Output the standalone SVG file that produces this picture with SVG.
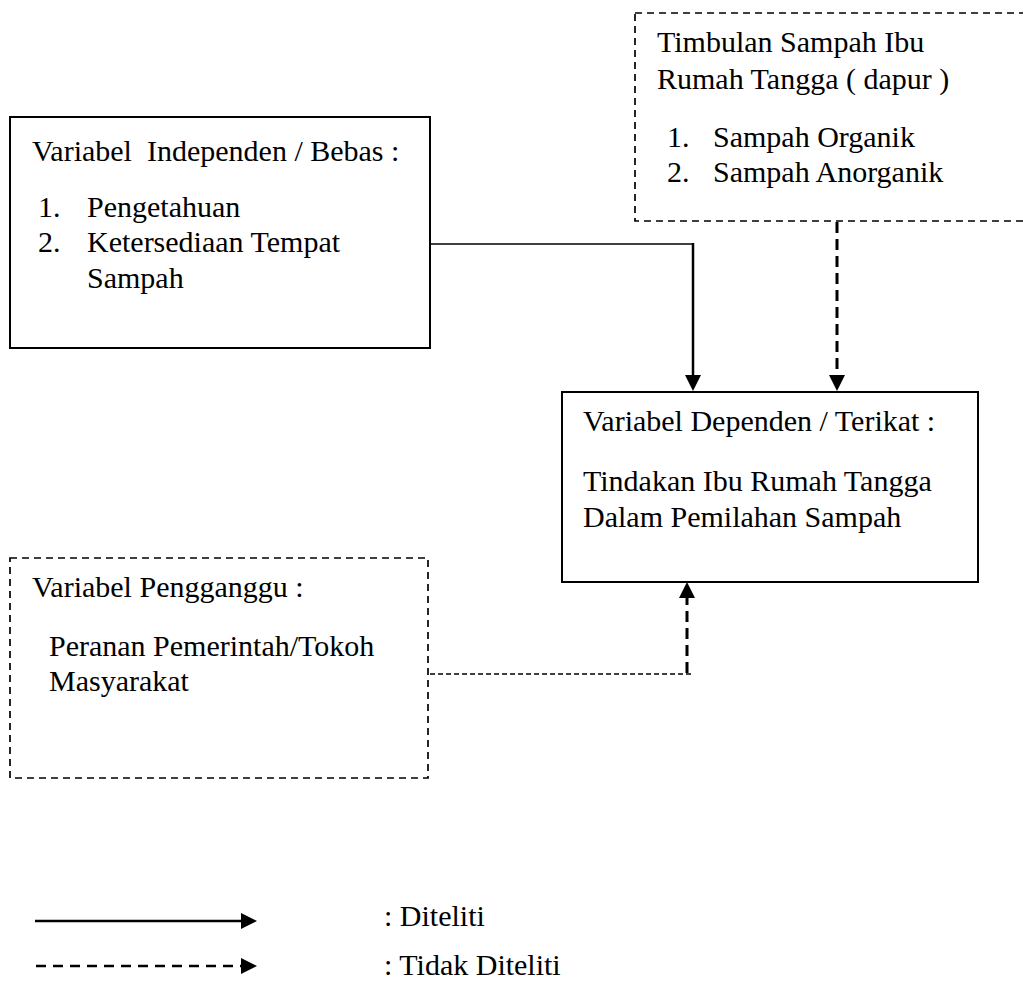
<svg xmlns="http://www.w3.org/2000/svg" width="1023" height="1001" viewBox="0 0 1023 1001">
<style>
.box{fill:none;stroke:#000;stroke-width:2}
.dbox{fill:none;stroke:#000;stroke-width:1.7;stroke-dasharray:7 5}
.solid{fill:none;stroke:#000;stroke-width:2.5}
.thin{fill:none;stroke:#000;stroke-width:1.5}
.dash{fill:none;stroke:#000;stroke-width:3;stroke-dasharray:11 6}
.dot{fill:none;stroke:#000;stroke-width:1.5;stroke-dasharray:5 3}
</style>
<defs>
<marker id="ah" markerUnits="userSpaceOnUse" markerWidth="18" markerHeight="18" refX="0" refY="8" orient="auto" overflow="visible">
<path d="M0,0 L16,8 L0,16 Z" fill="#000"/>
</marker>
</defs>
<rect width="1023" height="1001" fill="#fff"/>

<g id="node-independen" font-family="Liberation Serif, serif" font-size="30" fill="#000">
<rect class="box" x="10" y="117" width="420" height="231"/>
<text x="32" y="161" xml:space="preserve">Variabel  Independen / Bebas :</text>
<text x="38" y="217">1.</text><text x="87" y="217">Pengetahuan</text>
<text x="38" y="252">2.</text><text x="87" y="252">Ketersediaan Tempat</text>
<text x="87" y="288">Sampah</text>
</g>

<g id="node-timbulan" font-family="Liberation Serif, serif" font-size="30" fill="#000">
<rect class="dbox" x="635" y="13" width="420" height="208"/>
<text x="657" y="52">Timbulan Sampah Ibu</text>
<text x="657" y="89">Rumah Tangga ( dapur )</text>
<text x="667" y="147">1.</text><text x="713" y="147">Sampah Organik</text>
<text x="667" y="182">2.</text><text x="713" y="182">Sampah Anorganik</text>
</g>

<g id="node-dependen" font-family="Liberation Serif, serif" font-size="30" fill="#000">
<rect class="box" x="562" y="392" width="416" height="190"/>
<text x="583" y="431">Variabel Dependen / Terikat :</text>
<text x="583" y="491">Tindakan Ibu Rumah Tangga</text>
<text x="583" y="527">Dalam Pemilahan Sampah</text>
</g>

<g id="node-pengganggu" font-family="Liberation Serif, serif" font-size="30" fill="#000">
<rect class="dbox" x="10" y="558" width="418" height="220"/>
<text x="32" y="597">Variabel Pengganggu :</text>
<text x="49" y="656">Peranan Pemerintah/Tokoh</text>
<text x="49" y="691">Masyarakat</text>
</g>

<g id="connectors">
<path class="thin" d="M430,244 H693"/>
<path class="solid" d="M693,243 V375" marker-end="url(#ah)"/>
<path class="dash" d="M837,222 V375" marker-end="url(#ah)"/>
<path class="dot" d="M430,674 H693"/>
<path class="dash" d="M687,673 V598" marker-end="url(#ah)"/>
</g>

<g id="legend" font-family="Liberation Serif, serif" font-size="30" fill="#000">
<path class="solid" d="M35,921 H241" marker-end="url(#ah)"/>
<path class="solid" style="stroke-dasharray:10 7" d="M36,966 H241" marker-end="url(#ah)"/>
<text x="384" y="926">: Diteliti</text>
<text x="384" y="975">: Tidak Diteliti</text>
</g>
</svg>
